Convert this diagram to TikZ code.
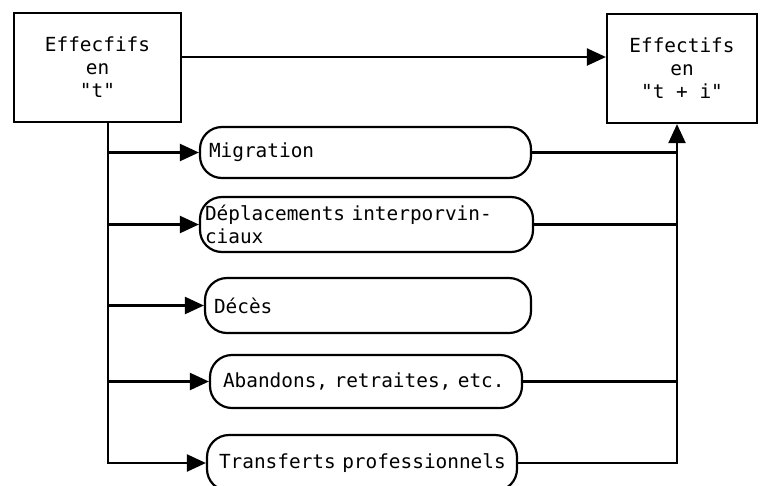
\documentclass[tikz,border=0pt]{standalone}
\usepackage{fontspec}
\setmonofont{DejaVu Sans Mono}
\usetikzlibrary{positioning}
\usetikzlibrary{arrows.meta}
\newcommand{\typefont}{\ttfamily\fontsize{19.4}{23}\selectfont
	\fontdimen2\font=11.68pt\relax
	\fontdimen3\font=0pt\relax
	\fontdimen4\font=0pt\relax}

\begin{document}
\begin{tikzpicture}[x=1pt,y=-1pt,
	line width=2.2pt,
	font=\typefont,
	stockbox/.style={draw, align=center},
	flowbox/.style={draw, rounded corners=22pt, inner xsep=9pt, align=left},
	arr/.style={-{Triangle[length=19pt,width=17pt]}}]
\useasboundingbox (0,0) rectangle (762,485);

\node[stockbox,
      minimum width=167pt,
      minimum height=109pt
     ]
	 (effT) at (97.5,67.5) {Effecfifs\\en\\"t"};
\node[stockbox,
      minimum width=150pt,
      minimum height=109pt
     ]
	 (effTi) at (682,68.5) {Effectifs\\en\\"t + i"};

\node[flowbox,
      minimum width=331pt,
      minimum height=51pt,
      text width=313pt
     ]
	 (migr) at (365.5,152.5) {Migration};
\node[flowbox,
      minimum width=333pt,
      minimum height=55pt,
      text width=323pt,
      inner xsep=4pt
     ]
	 (depl) at (366.5,224.5) {Déplacements interporvin-\\ciaux};
\node[flowbox,
      minimum width=326pt,
      minimum height=55pt,
      text width=308pt
     ]
	 (deces) at (368,305.5) {Décès};
\node[flowbox,
      minimum width=312pt,
      minimum height=53pt,
      text width=286pt,
      inner xsep=13pt
     ]
	 (aband) at (366,381.5) {\mbox{Abandons, retraites, etc.}};
\node[flowbox,
      minimum width=310pt,
      minimum height=56pt,
      text width=286pt,
      inner xsep=12pt
     ]
	 (transf) at (362,463) {\mbox{Transferts professionnels}};

% Rails on both sides
\coordinate (leftRail) at (108,0); \coordinate (rightRail) at (677,0);

\draw[arr] ([yshift=10.5pt]effT.east) -- ([yshift=10.5pt]effT.east -| effTi.west);
\draw[arr] (effT.south -| leftRail) -- (leftRail |- transf.west) -- (transf.west);
\foreach \b in {migr,depl,deces,aband}
	\draw[arr] (leftRail |- \b.west) -- (\b.west);
\foreach \b in {migr,depl,aband}
	\draw (\b.east) -- (rightRail |- \b.east);
\draw[arr] (transf.east) -- (rightRail |- transf.east) -- (rightRail |- effTi.south);

\end{tikzpicture}
\end{document}
